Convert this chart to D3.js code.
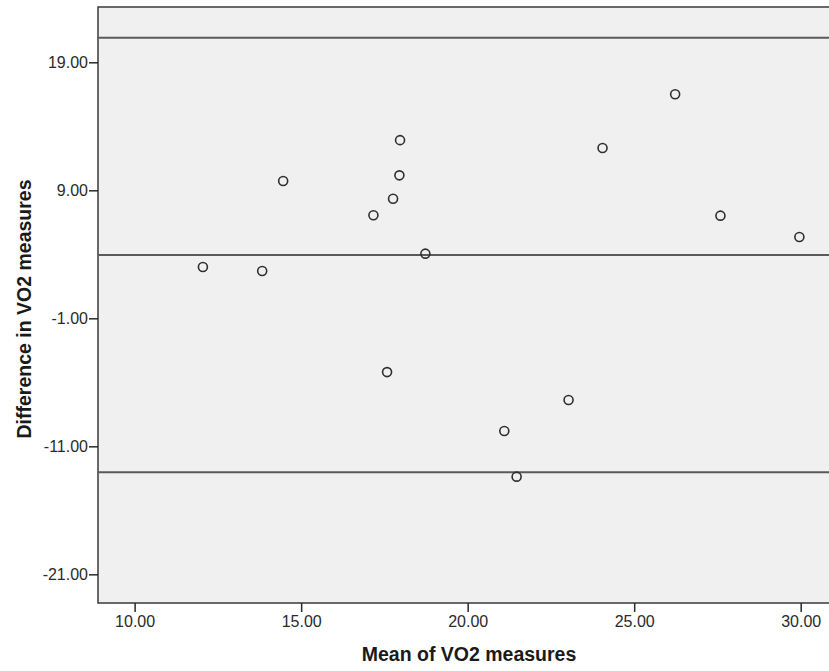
<!DOCTYPE html>
<html>
<head>
<meta charset="utf-8">
<script src="https://cdn.jsdelivr.net/npm/d3@7"></script>
<style>
  html, body { margin: 0; padding: 0; background: #fff; }
  svg { display: block; }
</style>
</head>
<body>
<svg id="chart" width="829" height="671"></svg>
<script>
// Data (Bland-Altman plot)
const meanVO2 = [12.05, 13.83, 14.46, 17.17, 17.76, 17.95, 17.97, 18.73, 17.58, 21.10, 23.03, 21.47, 24.05, 26.23, 27.59, 29.96];
const diffVO2 = [3.01, 2.70, 9.73, 7.05, 8.34, 10.17, 12.92, 4.05, -5.20, -9.80, -7.38, -13.37, 12.30, 16.50, 7.02, 5.35];
const refLines = [20.92, 3.95, -13.03];   // upper LoA, mean diff, lower LoA
const xTicks = [10, 15, 20, 25, 30];
const yTicks = [-21, -11, -1, 9, 19];
const xTitle = "Mean of VO2 measures";
const yTitle = "Difference in VO2 measures";

const svg = d3.select("#chart");
const pLeft = 98, pRight = 832, pTop = 7, pBottom = 603;

const x = d3.scaleLinear().domain([8.9, 30.94]).range([pLeft, pRight]);
const y = d3.scaleLinear().domain([-23.24, 23.32]).range([pBottom, pTop]);

// plot background
svg.append("rect")
  .attr("x", pLeft).attr("y", pTop)
  .attr("width", pRight - pLeft).attr("height", pBottom - pTop)
  .attr("fill", "#f0f0f0")
  .attr("stroke", "#3a3a3a").attr("stroke-width", 1.5);

// reference lines
svg.append("g").selectAll("line").data(refLines).join("line")
  .attr("x1", pLeft).attr("x2", pRight)
  .attr("y1", d => y(d)).attr("y2", d => y(d))
  .attr("stroke", "#5a5a5a").attr("stroke-width", 2);

// axes
const fmt = v => d3.format(".2f")(v).replace("\u2212", "-");
const xAxis = svg.append("g")
  .attr("transform", `translate(0,${pBottom})`)
  .call(d3.axisBottom(x).tickValues(xTicks).tickFormat(fmt).tickSize(9).tickSizeOuter(0).tickPadding(4));
const yAxis = svg.append("g")
  .attr("transform", `translate(${pLeft},0)`)
  .call(d3.axisLeft(y).tickValues(yTicks).tickFormat(fmt).tickSize(9).tickSizeOuter(0).tickPadding(1));

[xAxis, yAxis].forEach(g => {
  g.select(".domain").remove();
  g.selectAll(".tick line").attr("stroke", "#2a2a2a").attr("stroke-width", 1.5);
  g.selectAll(".tick text")
    .attr("fill", "#2a2a2a")
    .style("font-family", "'Liberation Sans', Arial, sans-serif")
    .style("font-size", "16px");
});

// points
svg.append("g").selectAll("circle").data(meanVO2.map((m, i) => [m, diffVO2[i]])).join("circle")
  .attr("cx", d => x(d[0])).attr("cy", d => y(d[1]))
  .attr("r", 4.5)
  .attr("fill", "none")
  .attr("stroke", "#2f2f2f").attr("stroke-width", 1.6);

// axis titles
svg.append("text")
  .attr("x", 469).attr("y", 661)
  .attr("text-anchor", "middle")
  .attr("fill", "#1a1a1a")
  .style("font-family", "'Liberation Sans', Arial, sans-serif")
  .style("font-size", "19.5px").style("font-weight", "bold")
  .text(xTitle);

svg.append("text")
  .attr("transform", "translate(31,309) rotate(-90)")
  .attr("text-anchor", "middle")
  .attr("fill", "#1a1a1a")
  .style("font-family", "'Liberation Sans', Arial, sans-serif")
  .style("font-size", "19.5px").style("font-weight", "bold")
  .text(yTitle);
</script>
</body>
</html>
